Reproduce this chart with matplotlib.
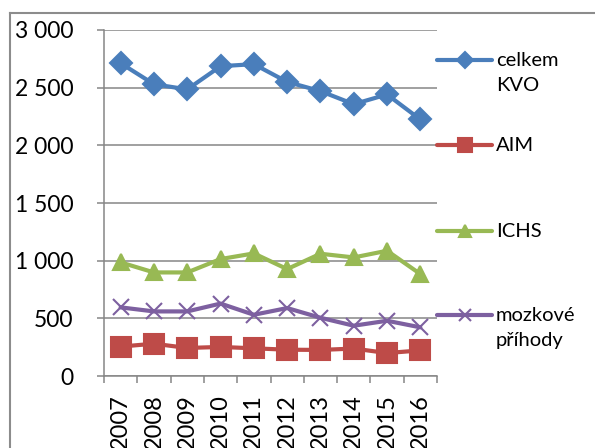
import matplotlib
matplotlib.use('Agg')
import matplotlib.pyplot as plt
import matplotlib.lines as mlines
import matplotlib.ticker as mticker

plt.rcParams['font.family'] = ['Lato', 'DejaVu Sans']

years = ['2007', '2008', '2009', '2010', '2011', '2012', '2013', '2014', '2015', '2016']
celkem_kvo = [2712, 2530, 2485, 2686, 2704, 2550, 2470, 2357, 2441, 2224]
aim = [255, 280, 243, 252, 240, 228, 226, 238, 199, 222]
ichs = [985, 898, 898, 1014, 1063, 927, 1060, 1028, 1086, 884]
mozkove = [595, 560, 560, 628, 531, 589, 505, 436, 479, 422]

labels = ['celkem\nKVO', 'AIM', 'ICHS', 'mozkové\npříhody']
colors = ['#4A7EBB', '#BE4B48', '#98B954', '#7D60A0']
markers = ['D', 's', '^', 'x']
msizes = [11, 14, 12, 12]
series = [celkem_kvo, aim, ichs, mozkove]

fig = plt.figure(figsize=(5.95, 4.48), dpi=100)
ax = fig.add_axes([104 / 595, 1 - 376 / 448, 333 / 595, 346 / 448])

x = list(range(len(years)))
for vals, c, m, ms in zip(series, colors, markers, msizes):
    ax.plot(x, vals, color=c, lw=3, marker=m, ms=ms, mew=1.5, solid_capstyle='round', zorder=3)

ax.set_xlim(-0.5, len(years) - 0.5)
ax.set_ylim(0, 3000)
ax.set_yticks(range(0, 3001, 500))
ax.yaxis.set_major_formatter(mticker.FuncFormatter(lambda v, p: '{:,.0f}'.format(v).replace(',', ' ')))
ax.set_xticks([i - 0.5 for i in range(len(years) + 1)], minor=False)
ax.set_xticklabels([])
ax.set_xticks(x, minor=True)
ax.set_xticklabels(years, minor=True, rotation=90, fontsize=17)
ax.tick_params(axis='x', which='minor', length=0, pad=13)
ax.tick_params(axis='x', which='major', length=5, width=1.1, color='#868686')
ax.tick_params(axis='y', length=5, width=1.1, color='#868686', labelsize=16.5, pad=17)

ax.grid(axis='y', color='#868686', lw=1.1)
ax.set_axisbelow(True)
for s in ['top', 'right']:
    ax.spines[s].set_visible(False)
for s in ['left', 'bottom']:
    ax.spines[s].set_color('#868686')
    ax.spines[s].set_linewidth(1.1)

# legend drawn by hand to the right of the plot
leg_y = [60, 145, 231, 315]
leg_ms = [8, 10, 9, 9]
for lab, c, m, ms, yy in zip(labels, colors, markers, leg_ms, leg_y):
    fy = 1 - yy / 448
    fig.add_artist(mlines.Line2D([437 / 595, 492 / 595], [fy, fy], color=c, lw=3,
                                 solid_capstyle='round'))
    fig.add_artist(mlines.Line2D([465 / 595], [fy], color=c, marker=m, ms=ms, mew=1.5, lw=0))
    shift = 8 if '\n' in lab and lab.startswith('m') else 8
    fig.text(496 / 595, fy + shift / 448, lab, fontsize=14.5, va='top', ha='left', linespacing=1.55)

# outer chart frame
fig.add_artist(mlines.Line2D([10 / 595, 1], [1 - 13.5 / 448, 1 - 13.5 / 448], color='#8c8c8c', lw=1.5))
fig.add_artist(mlines.Line2D([10 / 595, 10 / 595], [0, 1 - 13.5 / 448], color='#8c8c8c', lw=1.5))

fig.savefig('out.png', dpi=100)
